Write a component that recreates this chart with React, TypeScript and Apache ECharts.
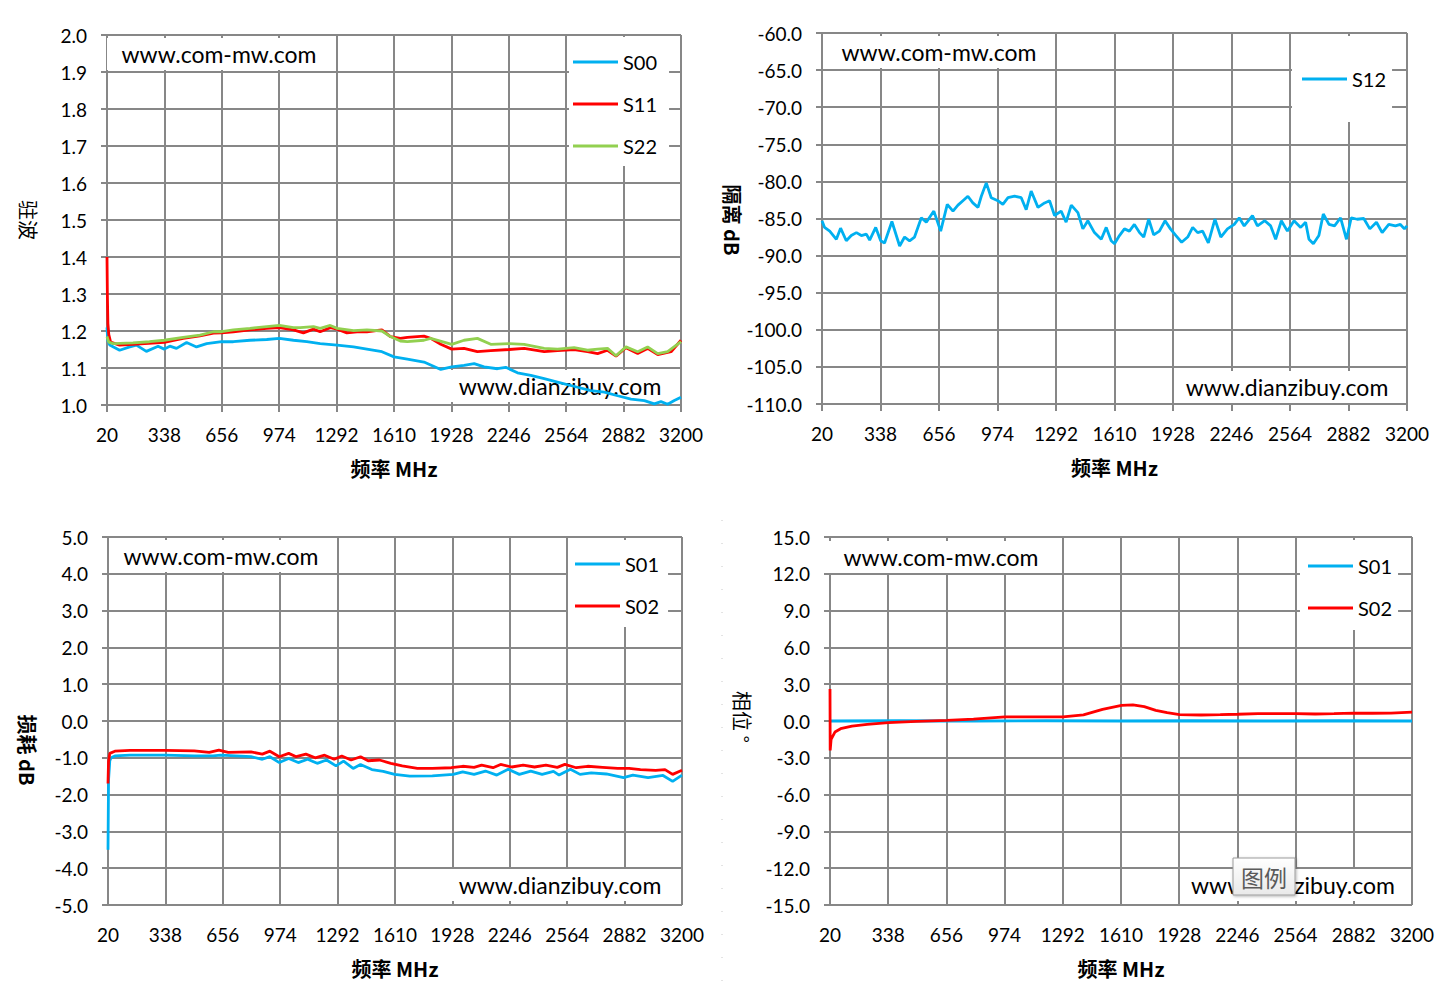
import React, { useEffect, useRef } from "react";
import * as echarts from "echarts";

// x axis ticks (MHz)
const freqTicks = [20, 338, 656, 974, 1292, 1610, 1928, 2246, 2564, 2882, 3200];

// 驻波 (VSWR)  [MHz, value]
const vswrS00 = [
  [20, 1.21], [24, 1.175], [35, 1.162], [90, 1.148], [146, 1.157], [183, 1.162], [238, 1.145],
  [303, 1.159], [337, 1.151], [368, 1.159], [405, 1.153], [461, 1.169], [516, 1.157], [572, 1.166],
  [655, 1.171], [720, 1.171], [812, 1.175], [905, 1.177], [975, 1.18], [1053, 1.175], [1127, 1.171],
  [1201, 1.166], [1295, 1.162], [1386, 1.157], [1460, 1.151], [1543, 1.144], [1610, 1.13],
  [1684, 1.124], [1776, 1.116], [1869, 1.096], [1930, 1.103], [1998, 1.107], [2054, 1.112],
  [2109, 1.103], [2183, 1.098], [2229, 1.102], [2294, 1.087], [2368, 1.08], [2442, 1.071],
  [2516, 1.062], [2627, 1.048], [2701, 1.039], [2775, 1.035], [2849, 1.025], [2923, 1.016],
  [2997, 1.012], [3052, 1.003], [3089, 1.009], [3126, 1.002], [3163, 1.012], [3200, 1.021],
];
const vswrS11 = [
  [20, 1.4], [22, 1.3], [25, 1.22], [30, 1.19], [40, 1.17], [90, 1.162], [164, 1.164], [337, 1.169],
  [442, 1.18], [535, 1.187], [610, 1.194], [655, 1.195], [720, 1.198], [812, 1.203], [905, 1.207],
  [975, 1.209], [1053, 1.203], [1108, 1.195], [1164, 1.205], [1201, 1.198], [1257, 1.209],
  [1295, 1.205], [1349, 1.195], [1405, 1.198], [1460, 1.198], [1543, 1.203], [1590, 1.185],
  [1645, 1.18], [1684, 1.183], [1776, 1.186], [1813, 1.18], [1869, 1.164], [1930, 1.151],
  [1998, 1.153], [2072, 1.144], [2146, 1.147], [2248, 1.15], [2331, 1.153], [2442, 1.144],
  [2516, 1.147], [2608, 1.15], [2682, 1.144], [2738, 1.139], [2793, 1.148], [2840, 1.132],
  [2895, 1.155], [2960, 1.139], [3015, 1.153], [3071, 1.136], [3145, 1.144], [3200, 1.175],
];
const vswrS22 = [
  [20, 1.185], [30, 1.17], [55, 1.166], [164, 1.168], [255, 1.171], [337, 1.175], [442, 1.183],
  [535, 1.189], [610, 1.198], [655, 1.198], [720, 1.203], [812, 1.207], [905, 1.212], [975, 1.215],
  [1053, 1.209], [1090, 1.209], [1164, 1.212], [1201, 1.207], [1257, 1.215], [1295, 1.207],
  [1386, 1.201], [1460, 1.203], [1543, 1.2], [1590, 1.185], [1645, 1.173], [1684, 1.171],
  [1776, 1.175], [1813, 1.18], [1930, 1.164], [1998, 1.175], [2072, 1.18], [2146, 1.164],
  [2248, 1.166], [2331, 1.164], [2442, 1.153], [2516, 1.151], [2608, 1.155], [2682, 1.148],
  [2738, 1.151], [2793, 1.153], [2840, 1.133], [2895, 1.157], [2960, 1.144], [3015, 1.157],
  [3071, 1.139], [3126, 1.144], [3200, 1.171],
];

// 隔离 dB
const isoS12 = [
  [20, -85.3], [34, -86.2], [62, -86.7], [98, -87.8], [121, -86.3], [152, -88.0], [179, -87.3],
  [207, -86.9], [234, -87.3], [261, -87.1], [279, -87.9], [312, -86.2], [339, -88.0], [360, -88.3],
  [400, -85.4], [442, -88.7], [469, -87.5], [496, -88.0], [523, -87.5], [560, -84.9], [587, -85.5],
  [628, -84.0], [665, -86.7], [701, -83.1], [732, -84.0], [759, -83.2], [786, -82.6], [813, -82.0],
  [840, -82.9], [868, -83.5], [886, -82.0], [913, -80.2], [940, -82.2], [976, -82.6], [1003, -83.1],
  [1031, -82.2], [1067, -82.0], [1103, -82.2], [1130, -83.8], [1157, -81.3], [1194, -83.5],
  [1230, -82.9], [1257, -82.6], [1284, -84.6], [1320, -84.0], [1347, -85.5], [1375, -83.2],
  [1411, -84.2], [1438, -86.4], [1465, -85.3], [1501, -86.9], [1538, -87.8], [1565, -86.2],
  [1592, -88.0], [1610, -88.4], [1637, -87.3], [1664, -86.4], [1691, -86.7], [1718, -85.8],
  [1746, -86.9], [1769, -87.5], [1796, -85.1], [1823, -87.2], [1854, -86.7], [1885, -85.3],
  [1914, -86.4], [1944, -87.3], [1975, -88.2], [2008, -87.5], [2035, -86.2], [2062, -86.9],
  [2089, -86.7], [2120, -88.3], [2156, -85.1], [2188, -87.5], [2224, -86.4], [2261, -85.8],
  [2288, -84.9], [2315, -86.0], [2360, -84.6], [2387, -86.0], [2427, -85.3], [2459, -86.0],
  [2486, -87.8], [2517, -85.3], [2550, -86.7], [2586, -85.3], [2622, -86.2], [2649, -85.5],
  [2667, -87.8], [2691, -88.4], [2721, -87.3], [2745, -84.4], [2776, -85.8], [2806, -86.0],
  [2839, -84.9], [2871, -87.8], [2897, -84.9], [2929, -85.1], [2965, -85.0], [2998, -86.4],
  [3034, -85.5], [3065, -86.9], [3101, -85.8], [3137, -86.0], [3164, -85.8], [3186, -86.4],
  [3200, -86.0],
];

// 损耗 dB
const lossS01 = [
  [20, -3.5], [23, -1.6], [30, -1.08], [37, -1.0], [58, -0.95], [142, -0.93], [336, -0.93],
  [498, -0.95], [602, -0.95], [644, -0.93], [812, -0.97], [875, -1.04], [917, -0.97], [969, -1.13],
  [1021, -1.02], [1074, -1.13], [1126, -1.04], [1179, -1.15], [1231, -1.06], [1283, -1.22],
  [1325, -1.09], [1378, -1.29], [1419, -1.18], [1482, -1.32], [1545, -1.37], [1608, -1.45],
  [1692, -1.5], [1817, -1.49], [1933, -1.45], [1985, -1.38], [2048, -1.45], [2111, -1.36],
  [2174, -1.47], [2237, -1.31], [2299, -1.45], [2362, -1.36], [2425, -1.45], [2488, -1.37],
  [2519, -1.47], [2582, -1.31], [2635, -1.45], [2697, -1.41], [2781, -1.44], [2876, -1.54],
  [2928, -1.47], [3012, -1.54], [3095, -1.48], [3148, -1.64], [3200, -1.47],
];
const lossS02 = [
  [20, -1.7], [23, -1.1], [30, -0.88], [58, -0.82], [142, -0.8], [336, -0.8], [498, -0.81],
  [581, -0.85], [634, -0.79], [686, -0.85], [812, -0.84], [875, -0.9], [917, -0.82], [969, -0.97],
  [1021, -0.88], [1063, -0.97], [1116, -0.9], [1168, -1.0], [1220, -0.93], [1273, -1.04],
  [1315, -0.95], [1367, -1.06], [1419, -0.97], [1461, -1.08], [1524, -1.06], [1587, -1.15],
  [1650, -1.22], [1734, -1.29], [1817, -1.29], [1922, -1.27], [1985, -1.23], [2048, -1.26],
  [2090, -1.2], [2153, -1.27], [2195, -1.18], [2257, -1.25], [2320, -1.2], [2383, -1.25],
  [2446, -1.2], [2509, -1.26], [2551, -1.18], [2614, -1.27], [2677, -1.23], [2760, -1.26],
  [2844, -1.29], [2907, -1.29], [2970, -1.32], [3054, -1.34], [3106, -1.32], [3148, -1.45],
  [3200, -1.34],
];

// 相位 °
const phaseS01 = [
  [20, 0.0], [400, 0.02], [800, 0.0], [1200, 0.02], [1600, 0.0], [2000, 0.02], [2400, 0.0],
  [2800, 0.02], [3200, 0.0],
];
const phaseS02 = [
  [20, 2.6], [21, -2.4], [26, -1.5], [47, -0.9], [78, -0.63], [140, -0.41], [223, -0.27],
  [339, -0.14], [493, -0.03], [659, 0.05], [804, 0.16], [976, 0.33], [1136, 0.34], [1293, 0.33],
  [1405, 0.5], [1509, 0.95], [1613, 1.28], [1675, 1.32], [1737, 1.17], [1800, 0.87], [1862, 0.68],
  [1930, 0.52], [2048, 0.49], [2152, 0.52], [2247, 0.55], [2359, 0.6], [2463, 0.6], [2565, 0.6],
  [2671, 0.57], [2774, 0.6], [2882, 0.65], [2982, 0.63], [3085, 0.65], [3200, 0.72],
];

const BLUE = "#00B0F0";
const RED = "#FF0000";
const GREEN = "#92D050";
const GRID = "#878787";
const FONT = "Lato, 'Liberation Sans', sans-serif";
const CJK = "'Noto Sans CJK SC', sans-serif";

const F0 = freqTicks[0];
const shift = (d: number[][]) => d.map(([f, v]) => [f - F0, v]);

const xAxis = (gridIndex: number) => ({
  type: "value",
  gridIndex,
  min: 0,
  max: freqTicks[freqTicks.length - 1] - F0,
  interval: freqTicks[1] - freqTicks[0],
  axisLine: { show: true, lineStyle: { color: GRID, width: 2 } },
  axisTick: { show: true, length: 7, lineStyle: { color: GRID, width: 2 } },
  axisLabel: {
    margin: 20,
    fontSize: 19,
    fontFamily: FONT,
    color: "#000",
    formatter: (v: number) => String(v + F0),
  },
  splitLine: { show: true, lineStyle: { color: GRID, width: 2 } },
  name: "频率 MHz",
  nameLocation: "middle",
  nameGap: 53,
  nameTextStyle: { fontSize: 20, fontWeight: "bold", color: "#000", fontFamily: CJK },
});

const yAxis = (gridIndex: number, min: number, max: number, interval: number) => ({
  type: "value",
  gridIndex,
  min,
  max,
  interval,
  axisLine: { show: true, lineStyle: { color: GRID, width: 2 } },
  axisTick: { show: true, length: 6, lineStyle: { color: GRID, width: 2 } },
  axisLabel: {
    margin: 20,
    fontSize: 19,
    fontFamily: FONT,
    color: "#000",
    formatter: (v: number) => v.toFixed(1),
  },
  splitLine: { show: true, lineStyle: { color: GRID, width: 2 } },
});

const line = (name: string, data: number[][], color: string, idx: number) => ({
  name,
  type: "line",
  xAxisIndex: idx,
  yAxisIndex: idx,
  data: shift(data),
  showSymbol: false,
  symbol: "none",
  lineStyle: { color, width: 2.8 },
  itemStyle: { color },
});

const legend = (data: string[], left: number, top: number, padding: number[]) => ({
  orient: "vertical",
  left,
  top,
  data,
  icon: "rect",
  itemWidth: 45,
  itemHeight: 3,
  itemGap: 20,
  backgroundColor: "#fff",
  padding,
  selectedMode: false,
  textStyle: { fontSize: 20, fontFamily: FONT, color: "#000", lineHeight: 22 },
});

const wmStyle = (text: string, align: string) => ({
  text,
  fill: "#000",
  fontSize: 23,
  fontFamily: FONT,
  align,
  verticalAlign: "middle",
});

const boxText = (text: string, x: number, y: number, w: number, h: number) => [
  { type: "rect", z: 1, shape: { x, y, width: w, height: h }, style: { fill: "#fff" } },
  { type: "text", z: 1, x: x + w / 2, y: y + h / 2, style: wmStyle(text, "center") },
];

const yTitle = (text: string, x: number, y: number, bold: boolean) => ({
  type: "text",
  z: 1,
  x,
  y,
  rotation: -Math.PI / 2,
  style: {
    text,
    fill: "#000",
    fontSize: 20,
    fontWeight: bold ? "bold" : "normal",
    fontFamily: CJK,
    align: "center",
    verticalAlign: "middle",
  },
});

export default function App() {
  const chartRef = useRef<HTMLDivElement>(null);

  useEffect(() => {
    document.body.style.margin = "0";
    const chart = echarts.init(chartRef.current as HTMLDivElement, null, { renderer: "svg" });

    const option = {
      animation: false,
      backgroundColor: "#fff",
      grid: [
        { left: 107, top: 35, width: 574, height: 370 },
        { left: 822, top: 33, width: 585, height: 371 },
        { left: 108, top: 537, width: 574, height: 368 },
        { left: 830, top: 537, width: 582, height: 368 },
      ],
      xAxis: [xAxis(0), xAxis(1), xAxis(2), xAxis(3)],
      yAxis: [yAxis(0, 1.0, 2.0, 0.1), yAxis(1, -110, -60, 5), yAxis(2, -5, 5, 1), yAxis(3, -15, 15, 3)],
      legend: [
        legend(["S00", "S11", "S22"], 569, 37, [14, 12, 9, 4]),
        legend(["S12"], 1292, 36, [32, 6, 32, 10]),
        legend(["S01", "S02"], 568, 540, [13, 9, 10, 7]),
        legend(["S01", "S02"], 1300, 540, [15, 6, 11, 8]),
      ],
      series: [
        line("S00", vswrS00, BLUE, 0),
        line("S11", vswrS11, RED, 0),
        line("S22", vswrS22, GREEN, 0),
        line("S12", isoS12, BLUE, 1),
        line("S01", lossS01, BLUE, 2),
        line("S02", lossS02, RED, 2),
        line("S01", phaseS01, BLUE, 3),
        line("S02", phaseS02, RED, 3),
      ],
      graphic: [
        ...boxText("www.com-mw.com", 107, 38, 224, 32),
        ...boxText("www.dianzibuy.com", 451, 370, 218, 32),
        ...boxText("www.com-mw.com", 827, 36, 224, 32),
        ...boxText("www.dianzibuy.com", 1178, 371, 218, 32),
        ...boxText("www.com-mw.com", 109, 540, 224, 32),
        ...boxText("www.dianzibuy.com", 451, 869, 218, 32),
        ...boxText("www.com-mw.com", 829, 541, 224, 32),
        // partly hidden behind the "图例" tip box
        { type: "rect", z: 1, shape: { x: 1184, y: 869, width: 218, height: 32 }, style: { fill: "#fff" } },
        { type: "text", z: 1, x: 1191, y: 885, style: wmStyle("www", "left") },
        { type: "text", z: 1, x: 1395, y: 885, style: wmStyle("zibuy.com", "right") },
        yTitle("驻波", 28, 220, false),
        yTitle("隔离 dB", 732, 220, true),
        yTitle("损耗 dB", 27, 750, true),
        yTitle("相位 °", 742, 717, false),
        {
          type: "line",
          z: 1,
          shape: { x1: 722, y1: 520, x2: 722, y2: 999 },
          style: { stroke: "#c8c8c8", lineWidth: 1, lineDash: [1, 22] },
        },
        {
          type: "rect",
          z: 10,
          shape: { x: 1233, y: 858, width: 62, height: 37 },
          style: {
            fill: new echarts.graphic.LinearGradient(0, 0, 0, 1, [
              { offset: 0, color: "#ffffff" },
              { offset: 1, color: "#e9e9e9" },
            ]),
            stroke: "#9c9c9c",
            lineWidth: 1,
            shadowBlur: 3,
            shadowOffsetX: 1,
            shadowOffsetY: 1,
            shadowColor: "rgba(0,0,0,0.3)",
          },
        },
        {
          type: "text",
          z: 11,
          x: 1264,
          y: 877,
          style: {
            text: "图例",
            fill: "#5a5a5a",
            fontSize: 23,
            fontFamily: CJK,
            align: "center",
            verticalAlign: "middle",
          },
        },
      ],
    };

    chart.setOption(option as any);
    return () => {
      chart.dispose();
    };
  }, []);

  return <div ref={chartRef} style={{ width: 1443, height: 999 }} />;
}
